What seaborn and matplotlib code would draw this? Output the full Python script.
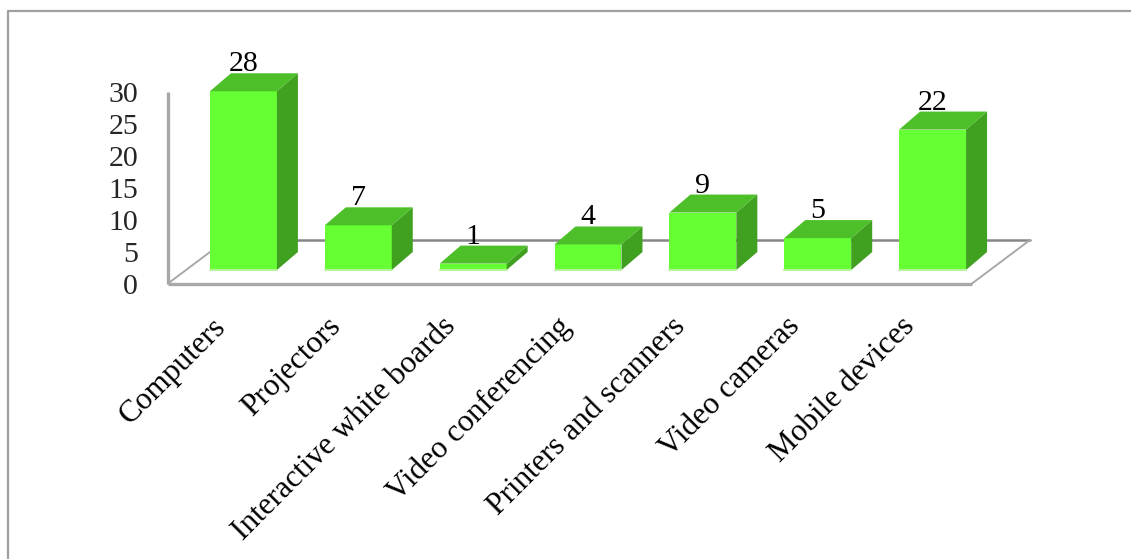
import matplotlib
matplotlib.use("Agg")
import matplotlib.pyplot as plt
from matplotlib.patches import Polygon
from matplotlib.lines import Line2D
import seaborn as sns
import pandas as pd

# ---- data ----
categories = ["Computers", "Projectors", "Interactive white boards",
              "Video conferencing", "Printers and scanners",
              "Video cameras", "Mobile devices"]
values = [28, 7, 1, 4, 9, 5, 22]
y_ticks = [0, 5, 10, 15, 20, 25, 30]

# ---- style ----
FRONT = "#66ff33"
TOP = "#4dbf28"
SIDE = "#40a020"
FONT = "Liberation Serif"
FS = 21.5
FS_CAT = 22.5

sns.set_theme(style="white")
plt.rcParams["font.family"] = [FONT, "DejaVu Serif"]

fig = plt.figure(figsize=(11.31, 5.59), dpi=100)
W, H = 1131, 559
ax_l, ax_r, ax_t, ax_b = 168, 972, 40, 300
ax = fig.add_axes([ax_l / W, 1 - ax_b / H, (ax_r - ax_l) / W, (ax_b - ax_t) / H])

df = pd.DataFrame({"category": categories, "value": values})
sns.barplot(data=df, x="category", y="value", color=FRONT, saturation=1,
            width=0.583, linewidth=0, ax=ax, zorder=3)

xmin, xmax = -0.5, len(categories) - 0.5
y0_px = 283.5
ux = (ax_r - ax_l) / (xmax - xmin)
uy = 191.5 / 30.0
ymin = -(ax_b - y0_px) / uy
ymax = (y0_px - ax_t) / uy
ax.set_xlim(xmin, xmax)
ax.set_ylim(ymin, ymax)

# pixel offsets converted to data units
mx, my = 18 / ux, 13.5 / uy        # bar position inside the floor depth
dx, dy = 21 / ux, 18 / uy          # bar depth
bx, by = 58 / ux, 43.5 / uy        # floor depth
lab_gap = 4 / uy

# floor and wall edges
ax.add_line(Line2D([xmin + bx, xmax + bx], [by, by], color="#868686",
                   lw=1.8, zorder=1, clip_on=False))
ax.add_line(Line2D([xmin, xmin + bx], [0, by], color="#a8a8a8",
                   lw=1.4, zorder=1, clip_on=False))
ax.add_line(Line2D([xmax, xmax + bx], [0, by], color="#a8a8a8",
                   lw=1.4, zorder=1, clip_on=False))
ax.add_line(Line2D([xmin, xmax], [0, 0], color="#a8a8a8",
                   lw=2.4, zorder=2, clip_on=False, solid_capstyle="butt"))
ax.add_line(Line2D([xmin, xmin], [0, 30], color="#a8a8a8",
                   lw=2.4, zorder=2, clip_on=False, solid_capstyle="butt"))

# 3D faces
for i, (p, v) in enumerate(zip(ax.patches, values)):
    p.set_x(p.get_x() + mx)
    p.set_y(my)
    p.set_clip_on(False)
    xl = p.get_x()
    xr = xl + p.get_width()
    yt = my + v
    z = 4 + i * 0.01
    ax.add_patch(Polygon([(xr, my), (xr, yt), (xr + dx, yt + dy), (xr + dx, my + dy)],
                         closed=True, facecolor=SIDE, edgecolor="none",
                         zorder=z, clip_on=False))
    ax.add_patch(Polygon([(xl, yt), (xr, yt), (xr + dx, yt + dy), (xl + dx, yt + dy)],
                         closed=True, facecolor=TOP, edgecolor="none",
                         zorder=z, clip_on=False))
    ax.add_line(Line2D([xl, xr], [my, my], color="#b4f59a", lw=1.5,
                       zorder=z + 0.001, clip_on=False))
    ax.text((xl + xr) / 2, yt + dy - lab_gap, str(v), ha="center", va="bottom",
            fontsize=FS, color="black", family=FONT, zorder=6, clip_on=False)

# axes text
for s in ax.spines.values():
    s.set_visible(False)
ax.set_yticks(y_ticks)
ax.set_yticklabels([str(t) for t in y_ticks], fontsize=FS, family=FONT)
ax.tick_params(axis="y", length=0, pad=21.5)
ax.set_xticks([])
lab_dx = -14 / ux
lab_y = (y0_px - 312) / uy
for i, c in enumerate(categories):
    ax.text(i + lab_dx, lab_y, c, rotation=45, ha="right", va="top",
            rotation_mode="anchor", fontsize=FS_CAT, family=FONT,
            color="black", clip_on=False)
ax.set_xlabel("")
ax.set_ylabel("")
ax.grid(False)
ax.patch.set_alpha(0)

# outer frame (top and left edges visible)
fig.add_artist(Line2D([8 / W, 1], [1 - 11 / H, 1 - 11 / H], color="#a0a0a0",
                      lw=1.6, transform=fig.transFigure))
fig.add_artist(Line2D([8 / W, 8 / W], [1 - 11 / H, 0], color="#a0a0a0",
                      lw=1.6, transform=fig.transFigure))

fig.savefig("out.png", dpi=100, facecolor="white")
